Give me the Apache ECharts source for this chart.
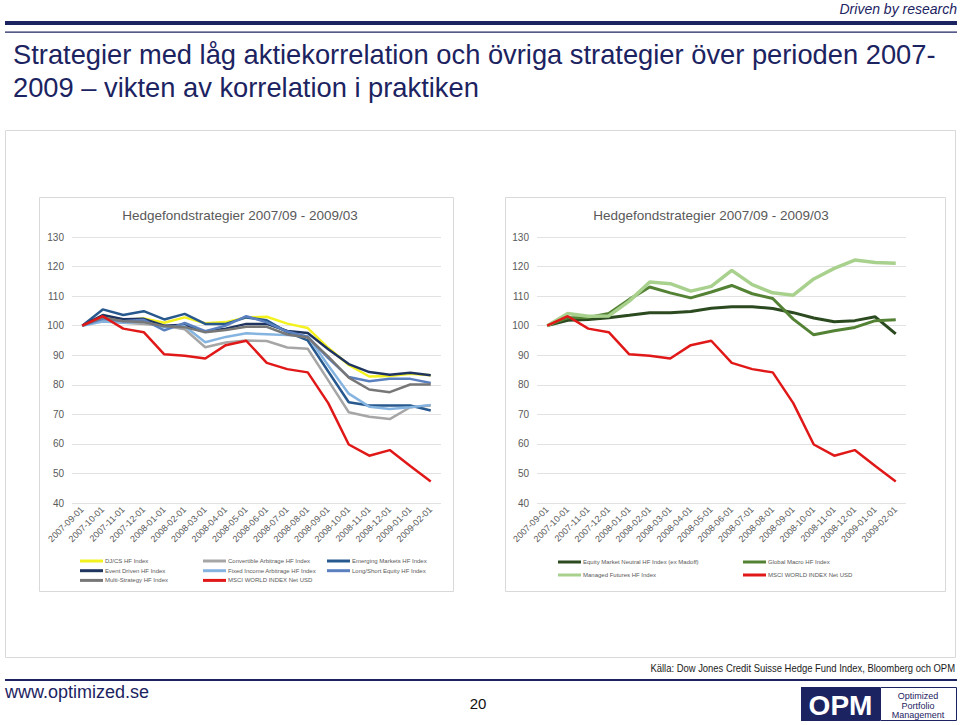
<!DOCTYPE html>
<html>
<head>
<meta charset="utf-8">
<script src="https://cdn.jsdelivr.net/npm/echarts@6/dist/echarts.min.js"></script>
<style>
html,body{margin:0;padding:0;background:#fff;}
#c{width:960px;height:725px;}
</style>
</head>
<body>
<div id="c"></div>
<script>
// ---- Data ----
const categories = ['2007-09-01','2007-10-01','2007-11-01','2007-12-01','2008-01-01','2008-02-01','2008-03-01','2008-04-01','2008-05-01','2008-06-01','2008-07-01','2008-08-01','2008-09-01','2008-10-01','2008-11-01','2008-12-01','2009-01-01','2009-02-01'];
const yTicks = [40, 50, 60, 70, 80, 90, 100, 110, 120, 130];

// Left chart
const djcs          = [100, 103.0, 101.8, 102.4, 101.0, 102.8, 100.8, 101.2, 102.8, 103.0, 100.7, 99.2, 92.5, 86.7, 82.8, 83.0, 83.7, 83.2];
const convertible   = [100, 102.0, 101.0, 100.6, 100.0, 98.8, 92.7, 94.3, 95.0, 94.8, 92.6, 92.2, 81.5, 70.7, 69.2, 68.4, 72.4, 73.0];
const emerging      = [100, 105.5, 103.6, 104.9, 102.1, 104.0, 100.6, 100.6, 102.8, 101.8, 97.8, 95.0, 84.5, 74.1, 73.0, 73.0, 73.0, 71.3];
const eventDriven   = [100, 103.6, 102.2, 102.3, 100.0, 100.3, 98.0, 99.0, 100.6, 100.6, 98.2, 97.5, 92.0, 87.0, 84.3, 83.4, 84.1, 83.2];
const fixedIncome   = [100, 101.4, 101.0, 101.3, 99.5, 99.8, 94.4, 96.2, 97.4, 97.1, 96.8, 96.4, 86.5, 77.0, 72.6, 71.8, 72.4, 73.2];
const longShort     = [100, 102.3, 101.5, 102.0, 98.4, 100.9, 98.1, 100.0, 103.2, 101.1, 98.0, 96.3, 89.0, 82.6, 81.2, 82.0, 82.0, 80.6];
const multiStrategy = [100, 102.8, 101.5, 101.2, 99.8, 99.5, 97.8, 98.5, 99.6, 99.6, 97.0, 96.0, 89.5, 82.4, 78.4, 77.5, 80.1, 80.1];
const msci          = [100, 103.2, 99.0, 97.8, 90.3, 89.8, 88.9, 93.4, 94.9, 87.4, 85.3, 84.2, 73.8, 59.8, 56.0, 57.9, 52.5, 47.3];

// Right chart
const equityNeutral  = [100, 101.8, 102.1, 102.7, 103.5, 104.4, 104.4, 104.8, 105.9, 106.4, 106.4, 105.8, 104.4, 102.6, 101.3, 101.7, 103.0, 97.2];
const globalMacro    = [100, 102.7, 102.8, 104.1, 108.9, 113.1, 111.1, 109.4, 111.4, 113.6, 110.8, 109.2, 102.2, 96.9, 98.3, 99.4, 101.7, 102.0];
const managedFutures = [100, 104.1, 103.2, 103.3, 108.3, 114.8, 114.2, 111.7, 113.3, 118.7, 113.9, 111.1, 110.3, 115.8, 119.4, 122.2, 121.4, 121.1];

const names = {
  djcs: 'DJ/CS HF Index',
  conv: 'Convertible Arbitrage HF Index',
  em: 'Emerging Markets HF Index',
  ed: 'Event Driven HF Index',
  fi: 'Fixed Income Arbitrage HF Index',
  ls: 'Long/Short Equity HF Index',
  ms: 'Multi-Strategy HF Index',
  msci: 'MSCI WORLD INDEX Net USD',
  emn: 'Equity Market Neutral HF Index (ex Madoff)',
  gm: 'Global Macro HF Index',
  mf: 'Managed Futures HF Index'
};
const chartTitle = 'Hedgefondstrategier 2007/09 - 2009/03';

// ---- Styles ----
const FONT = "'Liberation Sans', Arial, sans-serif";
const NAVY = '#1C2361';
const AX = '#595959';
const colors = {
  djcs: '#F4F21E', conv: '#A6A6A6', em: '#27598E', ed: '#1F3560',
  fi: '#86B4E0', ls: '#5B80C0', ms: '#777777', msci: '#E01818',
  emn: '#2C4A1F', gm: '#548235', mf: '#A9D18E'
};

const chart = echarts.init(document.getElementById('c'), null, {renderer: 'svg'});

function xAxis(gi) {
  return {
    type: 'category', gridIndex: gi, data: categories, boundaryGap: true,
    axisLine: {show: false}, axisTick: {show: false},
    axisLabel: {interval: 0, rotate: 45, fontSize: 9, color: AX, fontFamily: FONT, margin: 5}
  };
}
function yAxis(gi) {
  return {
    type: 'value', gridIndex: gi, min: yTicks[0], max: yTicks[yTicks.length - 1], interval: 10,
    axisLine: {show: false}, axisTick: {show: false},
    axisLabel: {fontSize: 10, color: AX, fontFamily: FONT, margin: 8},
    splitLine: {lineStyle: {color: '#E2E2E2', width: 1}}
  };
}
function line(key, data, gi, w) {
  return {
    name: names[key], type: 'line', xAxisIndex: gi, yAxisIndex: gi, data: data,
    symbol: 'none', lineStyle: {color: colors[key], width: w}, itemStyle: {color: colors[key]},
    emphasis: {disabled: true}
  };
}
function legend(items, left, top, gap) {
  return {
    orient: 'vertical', left: left, top: top, data: items, icon: 'rect',
    itemWidth: 23, itemHeight: 3, itemGap: gap, padding: 0,
    textStyle: {fontSize: 6, lineHeight: 8, color: AX, fontFamily: FONT, padding: [0, 0, 0, -3]},
    selectedMode: false
  };
}
function txt(x, y, text, font, fill, align, scaleX) {
  return {type: 'text', silent: true, x: x, y: y, scaleX: scaleX || 1,
          style: {text: text, textAlign: align || 'left', textVerticalAlign: 'middle', font: font, fill: fill}};
}

const option = {
  animation: false,
  backgroundColor: '#ffffff',
  grid: [
    {left: 72, width: 369, top: 237, height: 266},
    {left: 537, width: 369, top: 237, height: 266}
  ],
  xAxis: [xAxis(0), xAxis(1)],
  yAxis: [yAxis(0), yAxis(1)],
  legend: [
    legend([names.djcs, names.ed, names.ms], 80, 557, 1.7),
    legend([names.conv, names.fi, names.msci], 203, 557, 1.7),
    legend([names.em, names.ls], 327, 557, 1.7),
    legend([names.emn, names.mf], 558, 558, 5),
    legend([names.gm, names.msci], 743, 558, 5)
  ],
  series: [
    line('djcs', djcs, 0, 2.5),
    line('conv', convertible, 0, 2.5),
    line('em', emerging, 0, 2.5),
    line('ed', eventDriven, 0, 2.5),
    line('fi', fixedIncome, 0, 2.5),
    line('ls', longShort, 0, 2.5),
    line('ms', multiStrategy, 0, 2.5),
    line('msci', msci, 0, 2.5),
    line('emn', equityNeutral, 1, 3),
    line('gm', globalMacro, 1, 3),
    line('mf', managedFutures, 1, 3.5),
    line('msci', msci, 1, 2.5)
  ],
  graphic: [
    // header
    txt(957, 9, 'Driven by research', 'italic 14px ' + FONT, NAVY, 'right'),
    {type: 'rect', silent: true, shape: {x: 5, y: 21, width: 952, height: 4}, style: {fill: NAVY}},
    {type: 'rect', silent: true, shape: {x: 5, y: 31.5, width: 952, height: 1.3}, style: {fill: NAVY}},
    txt(13, 54, 'Strategier med låg aktiekorrelation och övriga strategier över perioden 2007-', '27.3px ' + FONT, NAVY),
    txt(13, 87, '2009 – vikten av korrelation i praktiken', '27.3px ' + FONT, NAVY),
    // frames
    {type: 'rect', silent: true, z: -10, shape: {x: 5.5, y: 130.5, width: 950, height: 527},
     style: {fill: 'none', stroke: '#D9D9D9', lineWidth: 1}},
    {type: 'rect', silent: true, z: -10, shape: {x: 39.5, y: 197.5, width: 414, height: 394},
     style: {fill: 'none', stroke: '#D9D9D9', lineWidth: 1}},
    {type: 'rect', silent: true, z: -10, shape: {x: 505.5, y: 197.5, width: 440, height: 394},
     style: {fill: 'none', stroke: '#D9D9D9', lineWidth: 1}},
    // chart titles
    txt(240, 215, chartTitle, '13.5px ' + FONT, AX, 'center'),
    txt(711, 215, chartTitle, '13.5px ' + FONT, AX, 'center'),
    // footer
    txt(955, 668, 'Källa: Dow Jones Credit Suisse Hedge Fund Index, Bloomberg och OPM', '10.5px ' + FONT, '#1a1a1a', 'right', 0.9),
    {type: 'rect', silent: true, shape: {x: 5, y: 679, width: 952, height: 2}, style: {fill: NAVY}},
    txt(5, 692, 'www.optimized.se', '18px ' + FONT, NAVY),
    txt(478, 703, '20', '15px ' + FONT, '#111111', 'center'),
    // logo
    {type: 'rect', silent: true, shape: {x: 801, y: 687, width: 79, height: 34}, style: {fill: NAVY}},
    txt(840.5, 705, 'OPM', 'bold 28px ' + FONT, '#ffffff', 'center'),
    {type: 'rect', silent: true, shape: {x: 880.5, y: 687.5, width: 76, height: 33}, style: {fill: '#ffffff', stroke: NAVY, lineWidth: 1}},
    txt(918, 696, 'Optimized', '9px ' + FONT, NAVY, 'center'),
    txt(918, 705.5, 'Portfolio', '9px ' + FONT, NAVY, 'center'),
    txt(918, 715, 'Management', '9px ' + FONT, NAVY, 'center')
  ]
};
chart.setOption(option);
</script>
</body>
</html>
